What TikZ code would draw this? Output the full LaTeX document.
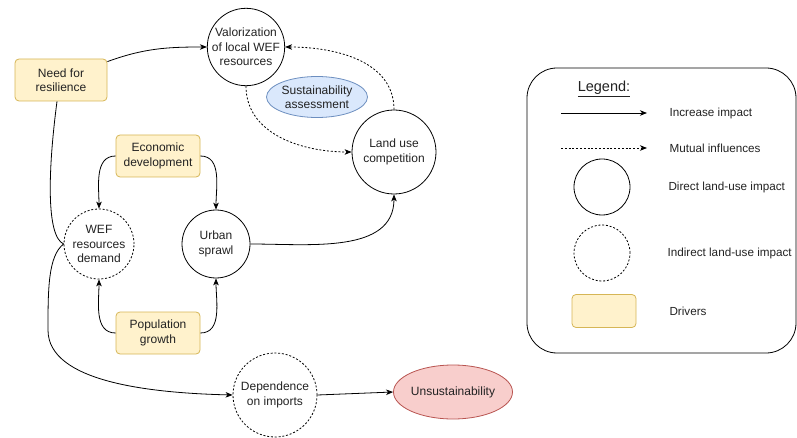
\documentclass[tikz,border=0pt]{standalone}
\usepackage{fontspec}
\setmainfont{Liberation Sans}
\usetikzlibrary{arrows.meta,shapes.geometric}
\definecolor{drvfill}{HTML}{FFF2CC}
\definecolor{drvline}{HTML}{D6B656}
\definecolor{bluefill}{HTML}{DAE8FC}
\definecolor{blueline}{HTML}{6C8EBF}
\definecolor{redfill}{HTML}{F8CECC}
\definecolor{redline}{HTML}{B85450}
\definecolor{txt}{HTML}{222222}
\tikzset{
  base/.style={line width=0.8pt, text=txt, align=center, font=\fontsize{12}{14.3}\selectfont},
  direct/.style={base, circle, draw=black, inner sep=0pt},
  indirect/.style={base, circle, draw=black, inner sep=0pt, dash pattern=on 2pt off 1.8pt},
  driver/.style={base, rectangle, rounded corners=4pt, draw=drvline, fill=drvfill, minimum width=92pt, minimum height=42pt, inner sep=1pt},
  conn/.style={line width=0.8pt, -{Stealth[length=7pt,width=5.5pt,inset=2pt]}},
  plain/.style={line width=0.8pt},
  mutual/.style={conn, dash pattern=on 2pt off 1.8pt},
  legtext/.style={text=txt, anchor=west, font=\fontsize{11.7}{13}\selectfont}
}
\begin{document}
\begin{tikzpicture}[x=1pt,y=-1pt]
\useasboundingbox (0,0) rectangle (797,438);

% main nodes
\node[direct, minimum size=77pt] (val) at (246,47) {Valorization\\of local WEF\\resources};
\node[driver] (res) at (61,80) {Need for\\resilience};
\node[base, ellipse, draw=blueline, fill=bluefill, minimum width=101pt, minimum height=41pt, inner sep=0pt] (sus) at (317,97) {Sustainability\\assessment};
\node[direct, minimum size=84pt] (land) at (394,152) {Land use\\competition};
\node[driver, minimum width=84pt] (eco) at (158,156) {Economic\\development};
\node[indirect, minimum size=70pt] (wef) at (99,244) {WEF\\resources\\demand};
\node[direct, minimum size=68pt] (urb) at (216,244) {Urban\\sprawl};
\node[driver, minimum width=84pt] (pop) at (158,333) {Population\\growth};
\node[indirect, minimum size=84pt] (dep) at (275,395) {Dependence\\on imports};
\node[base, ellipse, draw=redline, fill=redfill, minimum width=119pt, minimum height=54pt, inner sep=0pt] (uns) at (453,392) {Unsustainability};

% connectors
\draw[conn] (res.north east) ++(0,3) coordinate (r1) (r1) to[out=20,in=180] (val.west);
\coordinate (rb) at ([xshift=-4pt]res.south);
\draw[plain] (rb) .. controls (48,170) and (46,236) .. (wef.west);
\draw[conn] (wef.west) .. controls (48,256) and (48,290) .. (48,330) .. controls (48,382) and (150,393) .. (dep.west);
\draw[conn] (eco.west) to[out=180,in=90] (wef.north);
\draw[conn] (eco.east) to[out=0,in=90] (urb.north);
\draw[conn] (pop.west) to[out=180,in=-90] (wef.south);
\draw[conn] (pop.east) to[out=0,in=-90] (urb.south);
\draw[conn] (urb.east) to[out=0,in=-90] (land.south);
\draw[mutual] (val.south) to[out=-90,in=180] (land.west);
\draw[mutual] (land.north) to[out=90,in=0] (val.east);
\draw[conn] (dep.east) -- (uns.west);

% legend
\node[draw=black, line width=0.8pt, rounded corners=30pt, minimum width=269pt, minimum height=285pt, inner sep=0pt] (leg) at (661.5,210.5) {};
\node[text=txt, font=\fontsize{14.5}{16}\selectfont] (legt) at (604,89) {\underline{Legend:}};
\coordinate (a1) at (561,113); \coordinate (a2) at (647,113);
\draw[conn] (a1) -- (a2);
\node[legtext] (l1) at (666,113) {Increase impact};
\coordinate (b1) at (561,148); \coordinate (b2) at (647,148);
\draw[mutual] (b1) -- (b2);
\node[legtext] (l2) at (666,148) {Mutual influences};
\node[direct, minimum size=56pt] (c1) at (602,187) {};
\node[legtext] (l3) at (665,187) {Direct land-use impact};
\node[indirect, minimum size=56pt] (c2) at (602,253) {};
\node[legtext] (l4) at (664,253) {Indirect land-use impact};
\node[driver, minimum width=64pt, minimum height=33pt] (d1) at (604,311) {};
\node[legtext] (l5) at (666,311) {Drivers};
\end{tikzpicture}
\end{document}
